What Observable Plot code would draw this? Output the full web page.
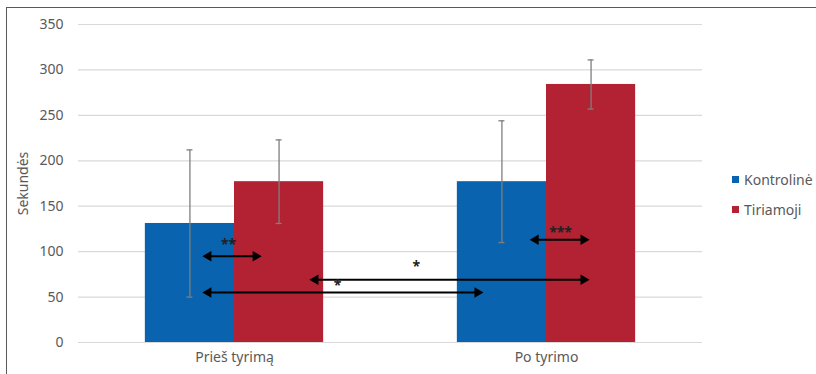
<!DOCTYPE html>
<html>
<head>
<meta charset="utf-8">
<script src="https://cdn.jsdelivr.net/npm/d3@7"></script>
<script src="https://cdn.jsdelivr.net/npm/@observablehq/plot@0.6"></script>
<style>
  html, body { margin: 0; padding: 0; background: #fff; }
  #wrap { position: relative; width: 816px; height: 374px; overflow: hidden; font-family: "Noto Sans", sans-serif; }
  #border { position: absolute; left: 6px; top: 7px; width: 900px; height: 500px; border-top: 1.5px solid #5a5a5a; border-left: 1.5px solid #5a5a5a; }
  #chart { position: absolute; left: 0; top: 0; }
  #legend { position: absolute; left: 732px; top: 169px; font-size: 14px; color: #595959; }
  #legend .item { display: flex; align-items: center; height: 20px; margin-bottom: 10px; }
  #legend .sw { width: 7px; height: 7px; margin-right: 5px; }
</style>
</head>
<body>
<div id="wrap"><div id="border"></div><div id="chart"></div><div id="legend"></div></div>
<script>
// --- data ---
const groups = ["Prieš tyrimą", "Po tyrimo"];
const series = ["Kontrolinė", "Tiriamoji"];
const kontrolineMean = [131, 177];
const kontrolineSD = [81, 67];
const tiriamojiMean = [177, 284];
const tiriamojiSD = [46, 27];
const yTicks = [0, 50, 100, 150, 200, 250, 300, 350];

// significance annotations (x in group units: group i spans [i, i+1])
const sigLabels = ["**", "*", "*", "***"];
const sigY = [95, 69, 55, 113];
const sigFrom = [0.397, 0.740, 0.397, 1.446];
const sigTo = [0.587, 1.638, 1.298, 1.638];
const sigLabelX = [0.481, 1.083, 0.830, 1.545];
const sigLabelY = [111, 87, 66, 124];

const colors = ["#0a63ae", "#b22233"];

// --- layout via band scales in group units ---
const groupBand = d3.scaleBand().domain(groups).range([0, groups.length]);
const seriesBand = d3.scaleBand().domain(series).range([0, 1]).paddingInner(0).paddingOuter(0.75);

const bars = [];
groups.forEach((g, i) => {
  [[kontrolineMean, kontrolineSD], [tiriamojiMean, tiriamojiSD]].forEach(([m, sd], j) => {
    const s = series[j];
    const x1 = groupBand(g) + seriesBand(s);
    const x2 = x1 + seriesBand.bandwidth();
    bars.push({group: g, series: s, x1, x2, xc: (x1 + x2) / 2, value: m[i], lo: m[i] - sd[i], hi: m[i] + sd[i]});
  });
});

const sig = sigLabels.map((label, i) => ({label, y: sigY[i], from: sigFrom[i], to: sigTo[i], lx: sigLabelX[i], ly: sigLabelY[i]}));
const groupCenters = groups.map(g => groupBand(g) + groupBand.bandwidth() / 2);

const plot = Plot.plot({
  width: 816,
  height: 374,
  marginLeft: 78,
  marginRight: 114,
  marginTop: 24,
  marginBottom: 32,
  style: {fontFamily: "Noto Sans, sans-serif", fontSize: "14px", color: "#595959", background: "transparent", overflow: "visible"},
  x: {domain: [0, groups.length], axis: null},
  y: {domain: [0, 350], axis: null},
  color: {domain: series, range: colors},
  marks: [
    Plot.gridY(yTicks, {stroke: "#d9d9d9", strokeOpacity: 1, strokeWidth: 1.2}),
    Plot.axisY(yTicks, {tickSize: 0, tickPadding: 15, label: "Sekundės", labelAnchor: "center", labelArrow: "none", labelOffset: 60, fill: "#595959"}),
    Plot.axisX(groupCenters, {tickSize: 0, tickPadding: 10, tickFormat: (d, i) => groups[i], label: null, fill: "#595959"}),
    Plot.rectY(bars, {x1: "x1", x2: "x2", y: "value", fill: "series"}),
    Plot.ruleX(bars, {x: "xc", y1: "lo", y2: "hi", stroke: "#7f7f7f", strokeWidth: 1.3}),
    Plot.ruleY(bars, {x1: "xc", x2: "xc", y: "hi", stroke: "#7f7f7f", strokeWidth: 1.3, insetLeft: -3, insetRight: -3}),
    Plot.ruleY(bars, {x1: "xc", x2: "xc", y: "lo", stroke: "#7f7f7f", strokeWidth: 1.3, insetLeft: -3, insetRight: -3}),
    Plot.ruleY(sig, {x1: "from", x2: "to", y: "y", stroke: "#000", strokeWidth: 2, insetLeft: 6, insetRight: 6}),
    Plot.dot(sig, {x: "from", y: "y", symbol: "triangle", r: 3.9, rotate: -90, fill: "#000", stroke: null, dx: 6}),
    Plot.dot(sig, {x: "to", y: "y", symbol: "triangle", r: 3.9, rotate: 90, fill: "#000", stroke: null, dx: -6}),
    Plot.text(sig, {x: "lx", y: "ly", text: "label", fill: "#222", fontSize: 14, fontWeight: "bold", dy: 3, style: "letter-spacing:1px"})
  ]
});
document.getElementById("chart").appendChild(plot);

const legend = d3.select("#legend");
const cs = plot.scale("color");
series.forEach(s => {
  const item = legend.append("div").attr("class", "item");
  item.append("div").attr("class", "sw").style("background", cs.apply(s));
  item.append("span").text(s);
});
</script>
</body>
</html>
